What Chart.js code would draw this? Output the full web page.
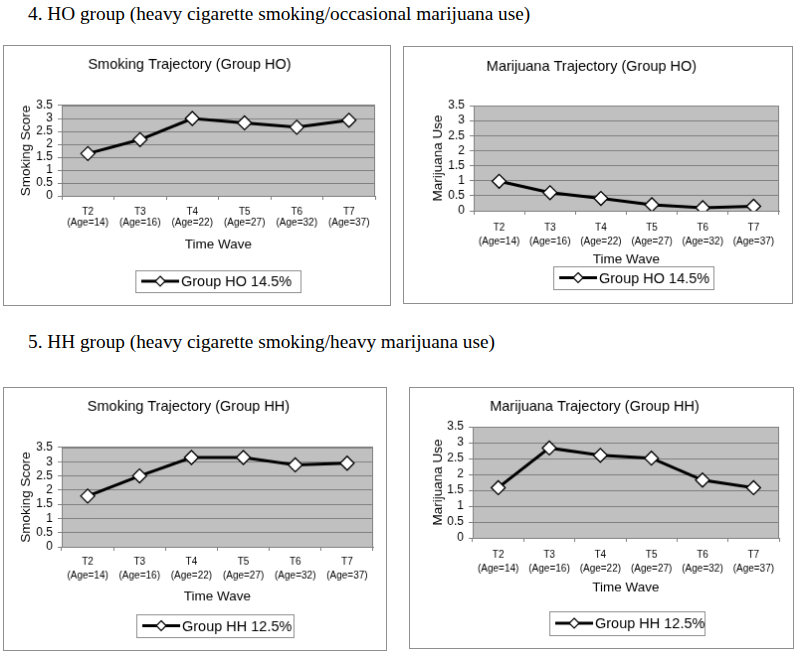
<!DOCTYPE html>
<html>
<head>
<meta charset="utf-8">
<script src="https://cdn.jsdelivr.net/npm/chart.js@4.4.0/dist/chart.umd.min.js"></script>
<style>
body { margin:0; background:#fff; width:800px; height:656px; position:relative; overflow:hidden; }
.hd { position:absolute; left:28px; font-family:'Liberation Serif','Times New Roman',serif; font-size:19.3px; line-height:20px; color:#000; white-space:nowrap; }
canvas { position:absolute; border:1px solid #8f8f8f; }
</style>
</head>
<body>
<div class="hd" style="top:4px">4. HO group (heavy cigarette smoking/occasional marijuana use)</div>
<div class="hd" style="top:332px">5. HH group (heavy cigarette smoking/heavy marijuana use)</div>
<canvas id="c1"></canvas>
<canvas id="c2"></canvas>
<canvas id="c3"></canvas>
<canvas id="c4"></canvas>
<script>
// ── Data ───────────────────────────────────────
const waves = ['T2', 'T3', 'T4', 'T5', 'T6', 'T7'];
const ages = [14, 16, 22, 27, 32, 37];
const yMin = 0, yMax = 3.5, yStep = 0.5;
const smokingHO = [1.64, 2.18, 3.0, 2.83, 2.66, 2.93];
const marijuanaHO = [0.98, 0.60, 0.41, 0.20, 0.10, 0.15];
const smokingHH = [1.79, 2.50, 3.15, 3.15, 2.89, 2.95];
const marijuanaHH = [1.58, 2.83, 2.60, 2.51, 1.82, 1.58];

const labels = waves.map((w, i) => [w, '(Age=' + ages[i] + ')']);
const FONT = "'Liberation Sans', Arial, sans-serif";

// ── Panel geometry (page pixels) ───────────────
const panels = [
    { id: 'c1', title: 'Smoking Trajectory (Group HO)', yTitle: 'Smoking Score', values: smokingHO, legend: 'Group HO 14.5%',
      box: [4, 46, 388, 261], plot: [62, 106, 377, 197], titleY: 65, yTitleX: 26, xTitleY: 246, yGap: 9, xTick: 16, xLine: 1.13, leg: [136, 272, 166, 22] },
    { id: 'c2', title: 'Marijuana Trajectory (Group HO)', yTitle: 'Marijuana Use', values: marijuanaHO, legend: 'Group HO 14.5%',
      box: [404, 47, 390, 258], plot: [474, 106, 781, 212], titleY: 67, yTitleX: 438, xTitleY: 261, yGap: 9, xTick: 17, xLine: 1.4, leg: [554, 268, 161, 23] },
    { id: 'c3', title: 'Smoking Trajectory (Group HH)', yTitle: 'Smoking Score', values: smokingHH, legend: 'Group HH 12.5%',
      box: [4, 388, 384, 264], plot: [62, 448, 375, 548], titleY: 407, yTitleX: 26, xTitleY: 598, yGap: 9, xTick: 15, xLine: 1.4, leg: [137, 616, 158, 23] },
    { id: 'c4', title: 'Marijuana Trajectory (Group HH)', yTitle: 'Marijuana Use', values: marijuanaHH, legend: 'Group HH 12.5%',
      box: [410, 388, 385, 262], plot: [473, 427, 781, 539], titleY: 407, yTitleX: 438, xTitleY: 589, yGap: 9, xTick: 17, xLine: 1.45, leg: [550, 613, 156, 24] }
];

// ── Plot area background + border ──────────────
const plotBg = {
    id: 'plotBg',
    beforeDraw(chart) {
        const a = chart.chartArea, ctx = chart.ctx;
        ctx.save();
        ctx.fillStyle = '#c0c0c0';
        ctx.fillRect(a.left, a.top, a.right - a.left, a.bottom - a.top);
        ctx.restore();
    },
    beforeDatasetsDraw(chart) {
        const a = chart.chartArea, ctx = chart.ctx;
        ctx.save();
        ctx.strokeStyle = '#808080';
        ctx.lineWidth = 1;
        ctx.beginPath();
        ctx.moveTo(a.left, a.top + 0.5);
        ctx.lineTo(a.right - 0.5, a.top + 0.5);
        ctx.lineTo(a.right - 0.5, a.bottom);
        ctx.stroke();
        ctx.restore();
    }
};

function makeChart(p) {
    const [bx, by, bw, bh] = p.box;
    const el = document.getElementById(p.id);
    el.width = bw; el.height = bh;
    el.style.left = (bx - 1) + 'px';
    el.style.top = (by - 1) + 'px';

    const pl = p.plot[0] - bx, pt = p.plot[1] - by, pr = p.plot[2] - bx, pb = p.plot[3] - by;
    const titleLH = 14.5 * 1.2, axisLH = 13.5 * 1.2;
    const xAxisH = (p.xTitleY - by) - pb + axisLH / 2;
    const tickLen = 4;

    // legend box: line with diamond marker + label
    const legendBox = {
        id: 'legendBox',
        afterDraw(chart) {
            const ctx = chart.ctx;
            const x = p.leg[0] - bx, y = p.leg[1] - by, w = p.leg[2], h = p.leg[3];
            const cy = y + h / 2;
            ctx.save();
            ctx.strokeStyle = '#8f8f8f';
            ctx.lineWidth = 1;
            ctx.strokeRect(x + 0.5, y + 0.5, w, h);
            ctx.strokeStyle = '#000';
            ctx.lineWidth = 3;
            ctx.beginPath();
            ctx.moveTo(x + 6, cy);
            ctx.lineTo(x + 44, cy);
            ctx.stroke();
            const mx = x + 25, r = 5;
            ctx.beginPath();
            ctx.moveTo(mx, cy - r); ctx.lineTo(mx + r, cy); ctx.lineTo(mx, cy + r); ctx.lineTo(mx - r, cy); ctx.closePath();
            ctx.fillStyle = '#fff';
            ctx.fill();
            ctx.lineWidth = 1.2;
            ctx.stroke();
            ctx.fillStyle = '#000';
            ctx.font = '14.5px ' + FONT;
            ctx.textBaseline = 'middle';
            ctx.fillText(p.legend, x + 46, cy + 1);
            ctx.restore();
        }
    };

    return new Chart(el, {
        type: 'line',
        data: {
            labels: labels,
            datasets: [{
                label: p.legend,
                data: p.values,
                borderColor: '#000',
                borderWidth: 3,
                tension: 0,
                pointStyle: 'rectRot',
                pointRadius: 7,
                pointHoverRadius: 7,
                pointBackgroundColor: '#fff',
                pointBorderColor: '#000',
                pointBorderWidth: 1.3
            }]
        },
        options: {
            responsive: false,
            devicePixelRatio: 1,
            animation: false,
            events: [],
            layout: { padding: { left: 0, top: 0, right: bw - pr, bottom: bh - pb - xAxisH } },
            plugins: {
                legend: { display: false },
                tooltip: { enabled: false },
                title: {
                    display: true,
                    text: p.title,
                    color: '#000',
                    font: { family: FONT, size: 14.5, weight: 'normal', lineHeight: 1.2 },
                    padding: { top: (p.titleY - by) - titleLH / 2, bottom: pt - (p.titleY - by) - titleLH / 2 }
                }
            },
            scales: {
                x: {
                    offset: true,
                    afterFit: s => { s.height = xAxisH; },
                    grid: { offset: true, drawOnChartArea: false, drawTicks: true, tickLength: 4, color: '#808080' },
                    border: { color: '#808080' },
                    ticks: {
                        color: '#000',
                        maxRotation: 0,
                        autoSkip: false,
                        font: { family: FONT, size: 10, lineHeight: p.xLine },
                        padding: p.xTick - 4 - 10 * p.xLine / 2
                    },
                    title: {
                        display: true,
                        text: 'Time Wave',
                        color: '#000',
                        font: { family: FONT, size: 13.5, lineHeight: 1.2 },
                        padding: 0
                    }
                },
                y: {
                    min: yMin,
                    max: yMax,
                    afterFit: s => { s.width = pl; },
                    grid: { color: '#808080', tickLength: tickLen },
                    border: { color: '#808080' },
                    ticks: {
                        stepSize: yStep,
                        autoSkip: false,
                        color: '#000',
                        font: { family: FONT, size: 12, lineHeight: 1 },
                        padding: p.yGap - tickLen,
                        callback: v => String(v)
                    },
                    title: {
                        display: true,
                        text: p.yTitle,
                        color: '#000',
                        font: { family: FONT, size: 13.5, lineHeight: 1.2 },
                        padding: { top: (p.yTitleX - bx) - axisLH / 2, bottom: 0 }
                    }
                }
            }
        },
        plugins: [plotBg, legendBox]
    });
}

panels.forEach(makeChart);
</script>
</body>
</html>
